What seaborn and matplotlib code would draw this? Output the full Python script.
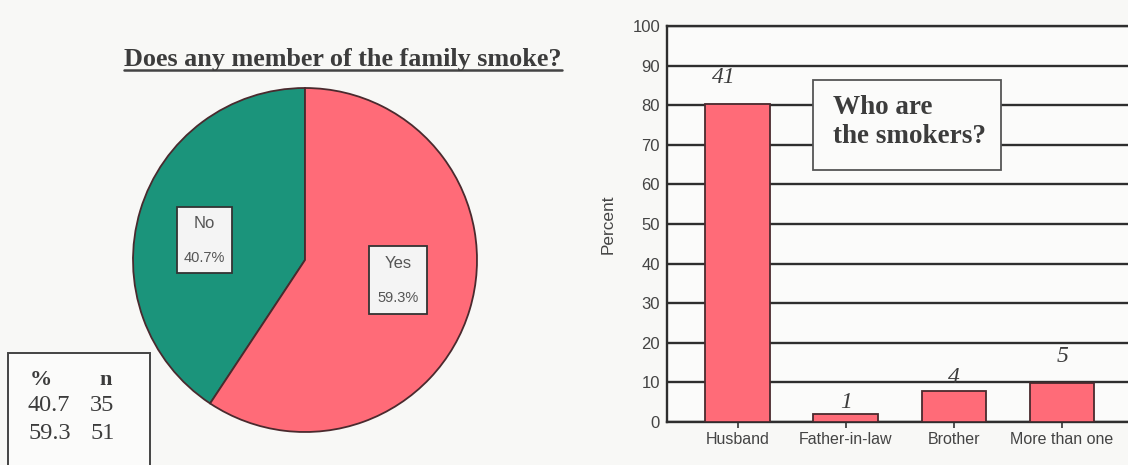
import matplotlib
matplotlib.use("Agg")
import matplotlib.pyplot as plt
from matplotlib.patches import Rectangle
from matplotlib.lines import Line2D
import pandas as pd
import seaborn as sns

# Does any member of the family smoke?
status_labels = ["No", "Yes"]
status_pct = [40.7, 59.3]
status_n = [35, 51]

# Who are the smokers? (bars in percent, labels are counts)
smoker_cats = ["Husband", "Father-in-law", "Brother", "More than one"]
smoker_counts = [41, 1, 4, 5]
smoker_pct = [80.4, 2.0, 7.8, 9.8]

y_ticks = [0, 10, 20, 30, 40, 50, 60, 70, 80, 90, 100]

BG = "#f8f8f6"
PINK = "#ff6b78"
TEAL = "#1b947b"
EDGE = "#4a2a2e"
TXT = "#3c3c3c"
SERIF = "Liberation Serif"
SANS = "Liberation Sans"

sns.set_theme(style="white")
plt.rcParams["font.family"] = [SANS, "DejaVu Sans"]

W, H = 1128, 465
fig = plt.figure(figsize=(W / 100, H / 100), dpi=100, facecolor=BG)


def fx(px):
    return px / W


def fy(py):
    return 1 - py / H


# ---------- pie ----------
cx, cy, r = 305, 260, 172
ax_pie = fig.add_axes([fx(cx - r), fy(cy + r), 2 * r / W, 2 * r / H])
ax_pie.pie(status_pct, colors=[TEAL, PINK], startangle=90, counterclock=True,
           wedgeprops=dict(edgecolor=EDGE, linewidth=1.3))
ax_pie.set_xlim(-1, 1)
ax_pie.set_ylim(-1, 1)
ax_pie.set_aspect("equal")
ax_pie.set_facecolor("none")

# label boxes (centre, half-width, half-height in pie units)
label_boxes = [(-0.584, 0.116, 0.16, 0.192), (0.541, -0.116, 0.169, 0.198)]
for (bx, by, hw, hh), lab, p in zip(label_boxes, status_labels, status_pct):
    ax_pie.add_patch(Rectangle((bx - hw, by - hh), 2 * hw, 2 * hh,
                               facecolor="#f4f4f4", edgecolor="#333333",
                               linewidth=1.3, zorder=5))
    ax_pie.text(bx, by + 0.098, lab, ha="center", va="center", fontsize=12,
                color="#555555", family=SANS, zorder=6)
    ax_pie.text(bx, by - 0.105, f"{p}%", ha="center", va="center", fontsize=10.5,
                color="#555555", family=SANS, zorder=6)

# title with underline
title = fig.text(fx(343), fy(66), "Does any member of the family smoke?",
                 ha="center", va="baseline", fontsize=18.8, fontweight="bold",
                 family=SERIF, color=TXT)
fig.canvas.draw()
bb = title.get_window_extent(renderer=fig.canvas.get_renderer())
fig.add_artist(Line2D([bb.x0 / W, bb.x1 / W], [fy(70), fy(70)],
                      transform=fig.transFigure, color="#444444", linewidth=1.8))

# small table of n
fig.add_artist(Rectangle((fx(8), fy(475)), fx(150) - fx(8), fy(353) - fy(475),
                         transform=fig.transFigure, facecolor="#fbfbfa",
                         edgecolor="#444444", linewidth=1.4))
fig.text(fx(30), fy(385), "%", fontsize=16, fontweight="bold", family=SERIF,
         color=TXT, va="baseline")
fig.text(fx(106), fy(385), "n", fontsize=16, fontweight="bold", family=SERIF,
         color=TXT, va="baseline", ha="center")
for i, (p, n) in enumerate(zip(status_pct, status_n)):
    yb = 411 + i * 28
    fig.text(fx(28), fy(yb), f"{p}", fontsize=17.5, family=SERIF, color=TXT,
             va="baseline")
    fig.text(fx(90), fy(yb), f"{n}", fontsize=17.5, family=SERIF, color=TXT,
             va="baseline")

# ---------- bars ----------
ax_bar = fig.add_axes([fx(667), fy(422), fx(1128) - fx(667), fy(26) - fy(422)])
ax_bar.set_facecolor("#fbfbfa")
df = pd.DataFrame({"who": smoker_cats, "pct": smoker_pct})
sns.barplot(data=df, x="who", y="pct", ax=ax_bar, color=PINK, saturation=1,
            width=0.6, edgecolor=EDGE, linewidth=1.3, zorder=3)
ax_bar.set_xlim(-0.655, 3.61)
ax_bar.set_ylim(0, 100)
ax_bar.set_yticks(y_ticks)
ax_bar.yaxis.grid(True, color="#2e2e2e", linewidth=1.7, zorder=1)
ax_bar.set_axisbelow(True)
for side in ["left", "top", "bottom"]:
    ax_bar.spines[side].set_visible(True)
    ax_bar.spines[side].set_color("#2e2e2e")
    ax_bar.spines[side].set_linewidth(1.7)
ax_bar.spines["right"].set_visible(False)
ax_bar.tick_params(axis="y", length=0, pad=5, labelsize=12, labelcolor="#444444")
ax_bar.tick_params(axis="x", length=4, width=1.2, color="#333333", direction="out",
                   pad=3, labelsize=11.5, labelcolor="#444444", bottom=True)
ax_bar.set_xlabel("")
ax_bar.set_ylabel("Percent", fontsize=12.4, color="#444444", labelpad=12)

label_pad = [5.2, 1.5, 2.0, 5.4]
label_dx = [-0.13, 0.0, 0.0, 0.0]
for i, (p, c) in enumerate(zip(smoker_pct, smoker_counts)):
    ax_bar.text(i + label_dx[i], p + label_pad[i], str(c), ha="center",
                va="baseline", fontsize=17, style="italic", family=SERIF,
                color=TXT, zorder=4)

# boxed caption
ax_bar.add_patch(Rectangle((fx(813), fy(170)), fx(1001) - fx(813), fy(80) - fy(170),
                           transform=fig.transFigure, facecolor="#fbfbfa",
                           edgecolor="#555555", linewidth=1.3, zorder=6,
                           clip_on=False))
ax_bar.text(fx(833), fy(114), "Who are", transform=fig.transFigure,
            fontsize=19.5, fontweight="bold", family=SERIF, color=TXT,
            va="baseline", zorder=7)
ax_bar.text(fx(833), fy(143), "the smokers?", transform=fig.transFigure,
            fontsize=19.5, fontweight="bold", family=SERIF, color=TXT,
            va="baseline", zorder=7)

fig.savefig("out.png", dpi=100, facecolor=BG)
